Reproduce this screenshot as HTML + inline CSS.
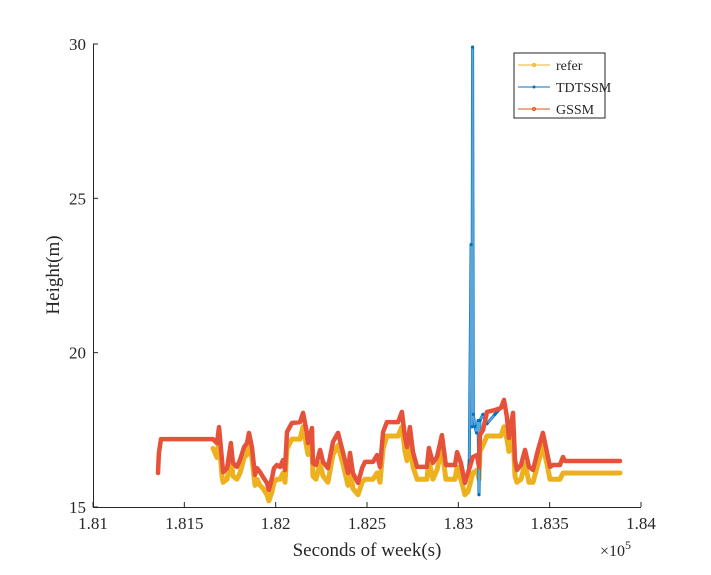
<!DOCTYPE html>
<html><head><meta charset="utf-8"><style>
body{margin:0;background:#fff}
svg text{font-family:"Liberation Serif",serif;fill:#262626}
</style></head><body>
<svg id="chart" width="711" height="570" xmlns="http://www.w3.org/2000/svg">
<rect width="711" height="570" fill="#fff"/>
<g id="plot"></g>
<g id="axes"></g>
<g>
<rect x="514" y="53" width="91" height="65" fill="#fff" stroke="#262626" stroke-width="1"/>
<g><line x1="518" y1="65" x2="550" y2="65" stroke="#EDB120" stroke-width="1"/><circle cx="534" cy="65" r="1.5" fill="none" stroke="#EDB120"/><text x="556" y="70" font-size="14">refer</text></g>
<g><line x1="518" y1="87" x2="550" y2="87" stroke="#0072BD" stroke-width="1"/><circle cx="534" cy="87" r="1.5" fill="#0072BD"/><text x="556" y="92" font-size="14">TDTSSM</text></g>
<g><line x1="518" y1="109" x2="550" y2="109" stroke="#D95319" stroke-width="1"/><circle cx="534" cy="109" r="1.5" fill="none" stroke="#D95319"/><text x="556" y="114" font-size="14">GSSM</text></g>
</g>
</svg>
<script>
const xTicks=[181000,181500,182000,182500,183000,183500,184000];
const xTickLabels=["1.81","1.815","1.82","1.825","1.83","1.835","1.84"];
const yTicks=[15,20,25,30];
const yTickLabels=["15","20","25","30"];
const gx=[181356,181361,181372,181657,181679,181690,181706,181712,181734,181755,181766,181788,181805,181827,181843,181854,181870,181887,181898,181914,181931,181952,181963,181980,181991,182007,182024,182040,182051,182062,182089,182133,182150,182171,182177,182199,182204,182221,182243,182259,182286,182314,182341,182368,182396,182407,182423,182451,182473,182489,182533,182555,182571,182588,182609,182670,182691,182708,182719,182735,182752,182774,182828,182839,182861,182883,182910,182932,182982,182993,183014,183036,183053,183080,183102,183113,183118,183135,183157,183200,183233,183250,183266,183277,183299,183310,183321,183343,183365,183387,183409,183436,183463,183485,183502,183518,183556,183573,183584,183885];
const gy=[16.10,16.75,17.20,17.20,17.07,17.59,16.52,16.13,16.26,17.07,16.43,16.30,16.52,16.94,17.07,17.40,16.94,16.04,16.26,16.13,15.97,15.78,15.55,15.94,16.26,16.36,16.30,16.52,16.20,17.43,17.72,17.75,18.05,17.40,17.07,17.56,16.43,16.36,16.85,16.46,16.26,17.11,17.40,16.78,16.10,16.75,16.10,15.78,16.26,16.46,16.46,16.68,16.30,17.43,17.75,17.75,18.08,17.27,16.94,17.59,16.78,16.30,16.30,16.91,16.43,16.62,17.33,16.36,16.36,16.78,16.43,15.78,16.10,16.62,16.68,16.30,17.33,17.49,18.08,18.14,18.21,18.47,17.92,17.24,18.05,16.52,16.20,16.36,16.85,16.30,16.20,16.85,17.40,16.78,16.30,16.36,16.36,16.62,16.49,16.49];
const rx=gx.slice(3);
const ry=[16.9,16.6,17.2,16.0,15.8,15.9,16.7,16.0,15.9,16.1,16.6,16.7,17.0,16.6,15.7,15.9,15.7,15.6,15.4,15.2,15.5,15.8,15.9,15.9,16.1,15.8,16.9,17.2,17.2,17.6,16.9,16.7,17.1,16.0,15.9,16.4,16.0,15.8,16.7,17.0,16.4,15.7,16.3,15.6,15.4,15.8,15.9,15.9,16.1,15.8,16.9,17.3,17.3,17.6,16.8,16.5,17.1,16.3,15.9,15.9,16.5,15.9,16.2,16.9,15.9,15.9,16.3,15.9,15.4,15.5,16.1,16.2,15.9,16.8,17.0,17.3,17.3,17.3,17.6,17.2,16.8,17.4,16.0,15.8,15.9,16.4,15.8,15.8,16.4,17.0,16.4,15.9,15.9,15.9,16.1,16.1,16.1];
const spikeX=[183060,183070,183074,183078,183082,183090,183100,183108,183113,183118,183135,183157,183200];
const spikeY=[16.5,23.5,17.6,29.9,18.0,17.6,17.4,17.8,15.4,17.8,18.0,17.7,18.0];

const X=v=>93+(v-181000)/3000*548;
const Y=v=>507-(v-15)/15*463;
const NS="http://www.w3.org/2000/svg";
const plot=document.getElementById('plot'),axes=document.getElementById('axes');
function mk(tag,at,parent){const e=document.createElementNS(NS,tag);for(const k in at)e.setAttribute(k,at[k]);parent.appendChild(e);return e;}
function pts(xs,ys){return xs.map((x,i)=>X(x).toFixed(1)+','+Y(ys[i]).toFixed(1)).join(' ');}
const tx=[],ty=[];
gx.forEach((x,i)=>{if(x<spikeX[0]){tx.push(x);ty.push(gy[i]);}});
spikeX.forEach((x,i)=>{tx.push(x);ty.push(spikeY[i]);});
gx.forEach((x,i)=>{if(x>spikeX[spikeX.length-1]){tx.push(x);ty.push(gy[i]);}});

const r=mk('polyline',{points:pts(rx,ry),fill:'none',stroke:'#EDB120','stroke-width':5,'stroke-linejoin':'round','stroke-linecap':'round'},plot);


const t=mk('polyline',{points:pts(tx,ty),fill:'none',stroke:'#0072BD','stroke-width':3,'stroke-linejoin':'round'},plot);


const tThin=mk('polyline',{points:pts(spikeX,spikeY),fill:'none',stroke:'#5AA5DB','stroke-width':1.8},plot);


spikeX.forEach((x,i)=>{const c=mk('circle',{cx:X(x),cy:Y(spikeY[i]),r:1.6,fill:'#0072BD'},plot);

});
const g=mk('polyline',{points:pts(gx,gy),fill:'none',stroke:'#E6513A','stroke-width':4.5,'stroke-linejoin':'round','stroke-linecap':'round'},plot);



mk('line',{x1:93,y1:507.5,x2:641,y2:507.5,stroke:'#262626','stroke-width':1},axes);
mk('line',{x1:93.5,y1:44,x2:93.5,y2:507,stroke:'#262626','stroke-width':1},axes);
xTicks.forEach((v,i)=>{const x=X(v);
mk('line',{x1:x,y1:507,x2:x,y2:502,stroke:'#262626'},axes);
const tx2=mk('text',{x:x,y:529,'font-size':17,'text-anchor':'middle'},axes);tx2.textContent=xTickLabels[i];

});
yTicks.forEach((v,i)=>{const y=Y(v);
mk('line',{x1:93,y1:y,x2:98,y2:y,stroke:'#262626'},axes);
const ty2=mk('text',{x:86,y:y+6,'font-size':17,'text-anchor':'end'},axes);ty2.textContent=yTickLabels[i];

});
const xl=mk('text',{x:367,y:556,'font-size':19,'text-anchor':'middle'},axes);xl.textContent='Seconds of week(s)';


const yl=mk('text',{x:0,y:0,'font-size':19,'text-anchor':'middle',transform:'translate(59,275) rotate(-90)'},axes);yl.textContent='Height(m)';


const ex=mk('text',{x:600,y:556,'font-size':16},axes);ex.innerHTML='×10<tspan dy="-7" font-size="12">5</tspan>';


</script>
</body></html>
